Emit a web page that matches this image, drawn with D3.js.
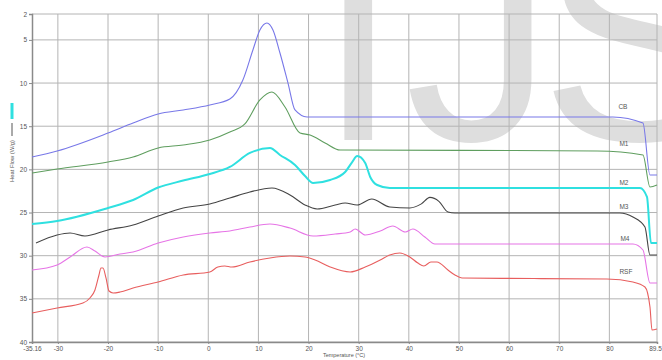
<!DOCTYPE html>
<html>
<head>
<meta charset="utf-8">
<script src="https://cdn.jsdelivr.net/npm/d3@7"></script>
<style>
  body { margin: 0; background: #fff; }
  svg { display: block; }
  .grid line { stroke: #b4b4b4; stroke-width: 1; }
  .tick-label { font-family: "Liberation Sans", Arial, sans-serif; font-size: 6.5px; fill: #555; }
</style>
</head>
<body>
<div id="chart"></div>
<script>
// tick values as drawn on the axes
var xTicks = [-35.16, -30, -20, -10, 0, 10, 20, 30, 40, 50, 60, 70, 80, 89.5];
var yTicks = [2, 5, 10, 15, 20, 25, 30, 35, 40];

var seriesNames = ["CB", "M1", "M2", "M3", "M4", "RSF"];
var seriesColors = ["#7878e8", "#5f9e5f", "#2fe0e0", "#444444", "#e674e6", "#e85e5e"];

// [temperature °C, heat flow]
var cb = [[-35.16,18.57],[-30.15,17.87],[-20,15.79],[-15,14.63],[-10,13.58],[-5,13.12],[0.3,12.54],[4.3,11.85],[6.9,9.65],[8.9,6.17],[10.3,3.85],[11.7,3.04],[12.9,3.85],[14.3,6.52],[15.9,10.0],[17.3,13.12],[19.7,13.93],[40,13.93],[60,13.93],[80.7,13.93],[86.7,14.63],[88.1,20.65],[89.5,20.65]];
var m1 = [[-35.16,20.42],[-30.15,19.96],[-20,19.15],[-15,18.57],[-10,17.52],[-5,17.18],[0.3,16.6],[4.3,15.67],[7.3,14.74],[10.3,11.96],[12.7,11.04],[15.3,12.77],[18.3,15.79],[20.3,16.02],[23.3,16.94],[26.3,17.76],[50,17.8],[77.6,17.87],[86.7,18.33],[88.1,22.04],[89.5,21.81]];
var m2 = [[-35.16,26.33],[-30.15,25.98],[-20,24.47],[-15,23.55],[-10,22.1],[-5,21.3],[0.3,20.54],[4.3,19.72],[8.3,18.1],[12.3,17.52],[14.3,18.33],[17.3,19.49],[19.3,20.77],[20.9,21.58],[24.3,21.23],[27.3,20.3],[28.7,19.15],[29.7,18.45],[31.3,19.26],[32.3,20.88],[33.7,21.81],[36.2,22.16],[60,22.16],[86.1,22.16],[87.5,23.2],[88.3,28.53],[89.5,28.53]];
var m3 = [[-34.36,28.53],[-30.15,27.6],[-27.56,27.37],[-24.6,27.72],[-20,27.02],[-15,26.44],[-10,25.4],[-5,24.47],[0.3,24.01],[4.3,23.32],[8.3,22.62],[12.7,22.16],[16.3,22.97],[19.3,24.13],[21.7,24.59],[25.3,24.13],[27.3,23.9],[29.7,24.13],[32.6,23.43],[36.2,24.36],[40.2,24.47],[42.5,24.0],[44.2,23.25],[46.0,23.7],[47.8,24.94],[49.2,25.05],[65,25.05],[82.1,25.05],[84.7,25.52],[87.1,26.68],[88.1,29.92],[89.5,29.92]];
var m4 = [[-35.16,31.66],[-30.15,31.08],[-27.56,30.15],[-24.2,28.99],[-22.6,29.46],[-20.6,30.15],[-17.6,29.8],[-15,29.57],[-10,28.53],[-5,27.83],[0.3,27.37],[4.3,27.14],[8.3,26.68],[12.3,26.33],[16.3,26.8],[20.9,27.72],[25.3,27.49],[28.3,27.25],[29.3,26.91],[31.3,27.6],[34.3,27.14],[36.8,26.56],[39.3,27.25],[40.8,26.91],[43.2,27.83],[45.2,28.65],[65,28.65],[84.7,28.65],[86.7,29.34],[88.1,33.16],[89.5,33.16]];
var rsf = [[-35.16,36.64],[-30.15,36.06],[-25,35.48],[-23.6,34.9],[-22.6,33.97],[-21.8,32.24],[-21.4,31.43],[-21,31.43],[-20.4,32.58],[-19.8,34.09],[-19,34.32],[-17.6,34.21],[-15,33.74],[-10,33.05],[-5,32.24],[0.3,31.89],[1.9,31.31],[3.3,31.19],[4.7,31.31],[8.3,30.73],[12.3,30.27],[16.3,30.04],[19.3,30.15],[21.3,30.5],[24.3,31.31],[28.3,31.89],[31.3,31.31],[34.3,30.5],[36.2,29.92],[38.2,29.69],[40.2,30.15],[41.8,30.85],[43,31.19],[44.4,30.73],[45.6,30.73],[47.8,31.66],[49.2,32.24],[50.6,32.58],[65,32.65],[79.5,32.7],[84.7,33.05],[87.1,33.63],[88.1,35.94],[88.5,38.61],[89.5,38.49]];

// where each curve name sits (temperature, heat flow)
var labelPos = [[82.7,12.77],[82.9,17.06],[82.9,21.58],[82.9,24.36],[83.1,28.07],[83.3,31.89]];

var W = 662, H = 360;
var margin = {top: 14, right: 5, bottom: 18, left: 32};

var svg = d3.select("#chart").append("svg")
    .attr("width", W).attr("height", H);

svg.append("rect").attr("width", W).attr("height", H).attr("fill", "#fff");

// faint watermark letters
var wm = svg.append("g")
    .attr("font-family", "Liberation Sans, Arial, sans-serif")
    .attr("font-size", 297)
    .attr("fill", "#dedede");
wm.append("text").attr("x", 317).attr("y", 140).text("I");
wm.append("text").attr("x", 405).attr("y", 140).text("J");
wm.append("text").attr("x", 540).attr("y", 140).text("S");

var x = d3.scaleLinear().domain([-35.16, 89.5]).range([margin.left, W - margin.right]);
var y = d3.scaleLinear().domain([2, 40]).range([margin.top, H - margin.bottom]);

// grid
var grid = svg.append("g").attr("class", "grid");
grid.selectAll(".vg").data(xTicks.slice(1)).enter().append("line")
    .attr("x1", function (d) { return x(d); }).attr("x2", function (d) { return x(d); })
    .attr("y1", y(2)).attr("y2", y(40));
grid.selectAll(".hg").data(yTicks).enter().append("line")
    .attr("x1", x(-35.16)).attr("x2", x(89.5))
    .attr("y1", function (d) { return y(d); }).attr("y2", function (d) { return y(d); });

// axes
var yAxis = svg.append("g")
    .attr("transform", "translate(" + margin.left + ",0)")
    .call(d3.axisLeft(y).tickValues(yTicks).tickSize(3).tickPadding(2).tickFormat(d3.format("d")));
var xAxis = svg.append("g")
    .attr("transform", "translate(0," + (H - margin.bottom) + ")")
    .call(d3.axisBottom(x).tickValues(xTicks).tickSize(2).tickPadding(2)
        .tickFormat(function (d) { return String(d); }));

[yAxis, xAxis].forEach(function (a) {
    a.select(".domain").attr("stroke", "#8a8a8a").attr("stroke-width", 1.5);
    a.selectAll(".tick line").attr("stroke", "#8a8a8a");
    a.selectAll(".tick text").attr("class", "tick-label").attr("fill", "#555")
        .style("font-size", "6.5px").style("font-family", "Liberation Sans, Arial, sans-serif");
});
xAxis.selectAll(".tick text").filter(function (d) { return d === 89.5; }).attr("dx", "-2");

// curves
var line = d3.line()
    .x(function (d) { return x(d[0]); })
    .y(function (d) { return y(d[1]); })
    .curve(d3.curveMonotoneX);

var allSeries = [cb, m1, m2, m3, m4, rsf];
svg.selectAll(".curve").data(allSeries).enter().append("path")
    .attr("class", "curve")
    .attr("fill", "none")
    .attr("stroke", function (d, i) { return seriesColors[i]; })
    .attr("stroke-width", function (d, i) { return i === 2 ? 2 : 1.1; })
    .attr("d", line);

svg.selectAll(".name").data(seriesNames).enter().append("text")
    .attr("class", "tick-label")
    .attr("x", function (d, i) { return x(labelPos[i][0]); })
    .attr("y", function (d, i) { return y(labelPos[i][1]); })
    .attr("dy", "0.35em")
    .attr("text-anchor", "middle")
    .text(function (d) { return d; });

// axis titles
svg.append("text")
    .attr("x", 344).attr("y", 357)
    .attr("text-anchor", "middle")
    .attr("font-family", "Liberation Sans, Arial, sans-serif")
    .attr("font-size", 5.5).attr("fill", "#555")
    .text("Temperature (°C)");

svg.append("text")
    .attr("transform", "translate(14,161) rotate(-90)")
    .attr("text-anchor", "middle")
    .attr("font-family", "Liberation Sans, Arial, sans-serif")
    .attr("font-size", 5.8).attr("fill", "#555")
    .text("Heat Flow (W/g)");
svg.append("line")
    .attr("x1", 12).attr("x2", 12).attr("y1", 123).attr("y2", 136)
    .attr("stroke", "#555").attr("stroke-width", 1);
svg.append("line")
    .attr("x1", 12).attr("x2", 12).attr("y1", 103).attr("y2", 119)
    .attr("stroke", "#2fe0e0").attr("stroke-width", 3);
</script>
</body>
</html>
